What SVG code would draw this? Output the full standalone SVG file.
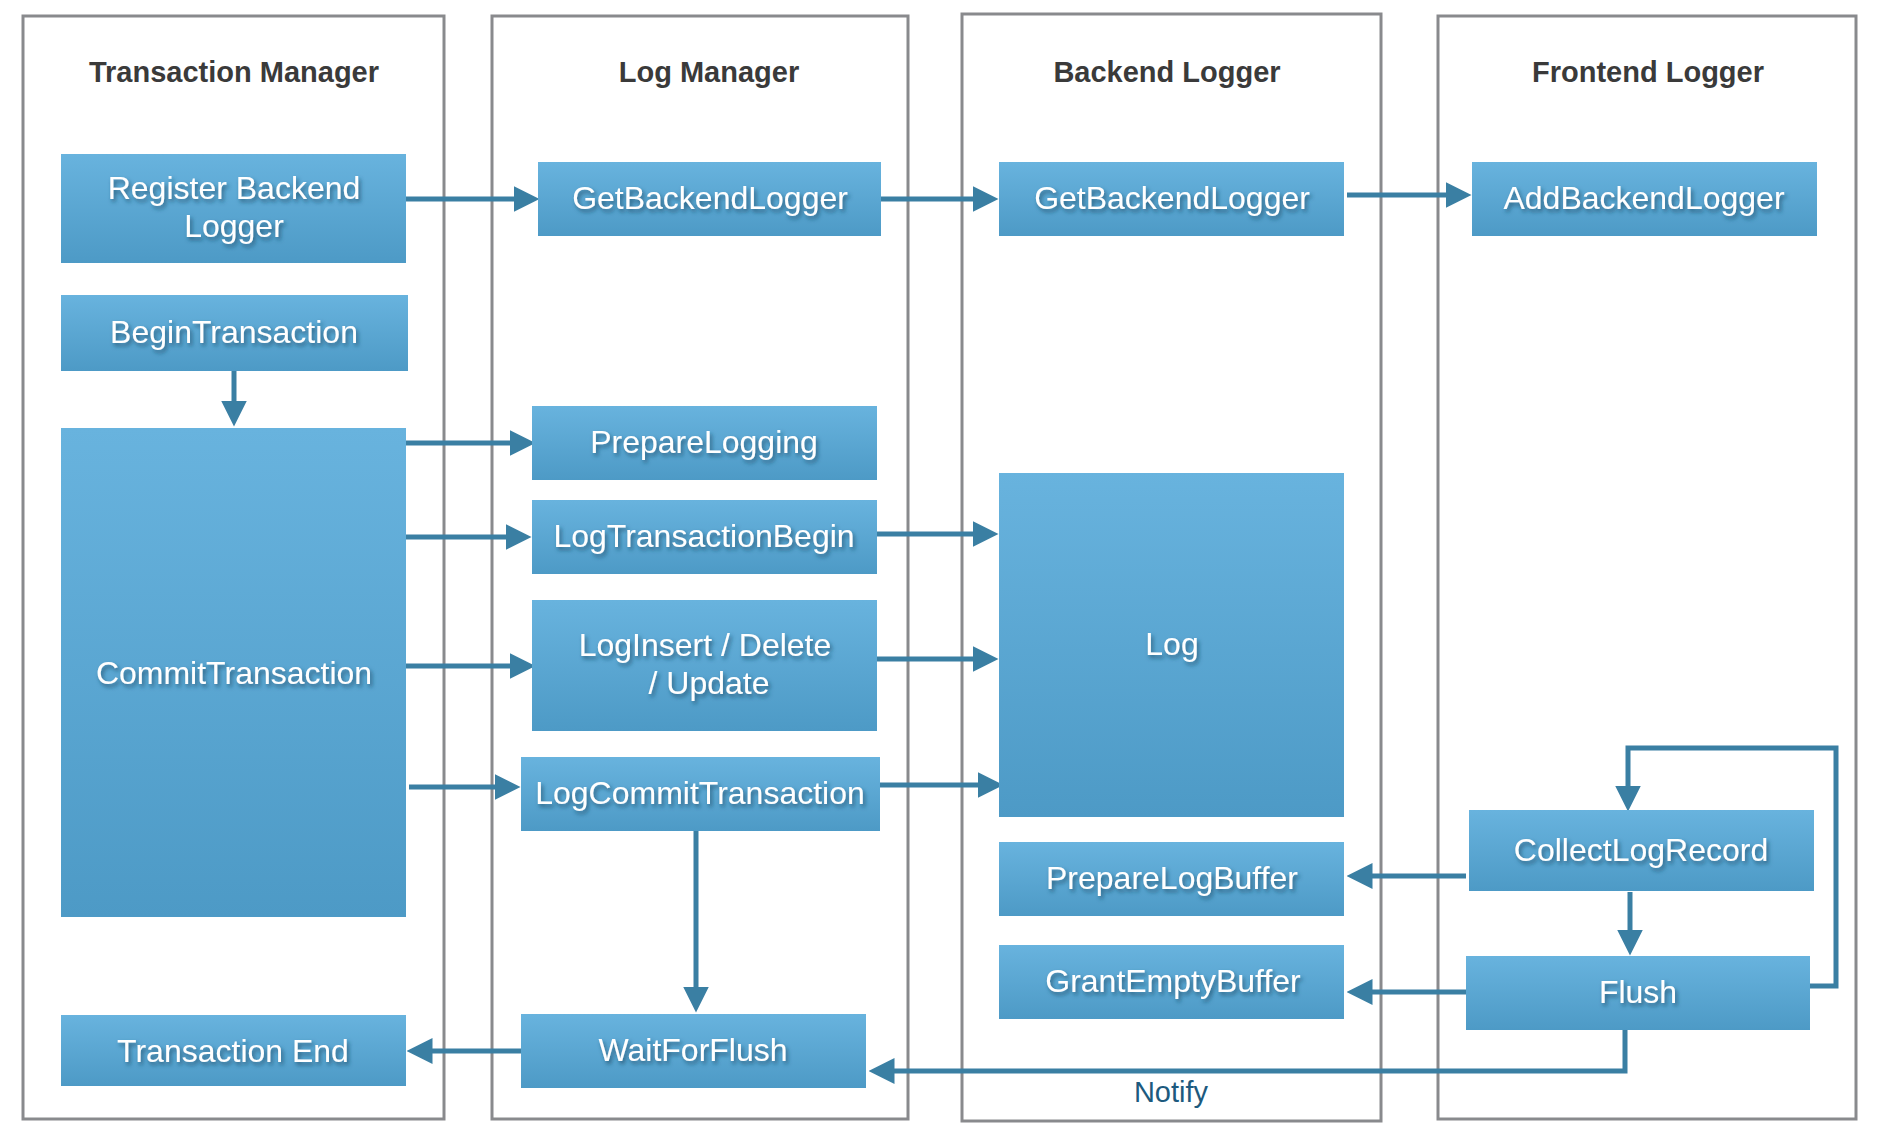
<svg xmlns="http://www.w3.org/2000/svg" width="1880" height="1138" viewBox="0 0 1880 1138">
<style>
.lane{fill:#ffffff;stroke:#898a8d;stroke-width:3}
.title{font-family:"Liberation Sans",Arial,sans-serif;font-weight:bold;font-size:29px;fill:#3a3a3a;text-anchor:middle}
.box{fill:url(#bg)}
.lbl{font-family:"Liberation Sans",Arial,sans-serif;font-size:32px;fill:#ffffff;text-anchor:middle;filter:url(#ts)}
.con{fill:none;stroke:#3a7fa3;stroke-width:5;stroke-linejoin:miter;marker-end:url(#ah)}
.note{font-family:"Liberation Sans",Arial,sans-serif;font-size:29px;fill:#1d5a7e;text-anchor:middle}
</style>
<defs>
<linearGradient id="bg" x1="0" y1="0" x2="0" y2="1">
<stop offset="0" stop-color="#68b3de"/>
<stop offset="1" stop-color="#4d9ac6"/>
</linearGradient>
<filter id="ts" x="-10%" y="-30%" width="120%" height="160%">
<feDropShadow dx="2" dy="3" stdDeviation="2" flood-color="#1b4866" flood-opacity="0.75"/>
</filter>
<marker id="ah" markerUnits="userSpaceOnUse" markerWidth="26" markerHeight="26" viewBox="0 0 26 26" refX="0.5" refY="13" orient="auto">
<path d="M0,0 L26,13 L0,26 z" fill="#3a7fa3"/>
</marker>
</defs>
<rect width="1880" height="1138" fill="#ffffff"/>
<g id="lanes">
<g id="lane-transaction-manager"><rect class="lane" x="23" y="16" width="421" height="1103"/><text class="title" x="234" y="82">Transaction Manager</text></g>
<g id="lane-log-manager"><rect class="lane" x="492" y="16" width="416" height="1103"/><text class="title" x="709" y="82">Log Manager</text></g>
<g id="lane-backend-logger"><rect class="lane" x="962" y="14" width="419" height="1107"/><text class="title" x="1167" y="82">Backend Logger</text></g>
<g id="lane-frontend-logger"><rect class="lane" x="1438" y="16" width="418" height="1103"/><text class="title" x="1648" y="82">Frontend Logger</text></g>
</g>
<g id="connectors">
<path class="con" d="M406,199 H514"/>
<path class="con" d="M881,199 H973"/>
<path class="con" d="M1347,195 H1446"/>
<path class="con" d="M234,371 V401"/>
<path class="con" d="M401,443 H510"/>
<path class="con" d="M401,537 H506"/>
<path class="con" d="M401,666 H510"/>
<path class="con" d="M409,787 H495"/>
<path class="con" d="M877,534 H973"/>
<path class="con" d="M877,659 H973"/>
<path class="con" d="M880,785 H978"/>
<path class="con" d="M696,831 V987"/>
<path class="con" d="M521,1051 H432"/>
<path class="con" d="M1466,876 H1372"/>
<path class="con" d="M1466,992 H1372"/>
<path class="con" d="M1630,892 V930"/>
<path class="con" d="M1810,986 H1836 V748 H1628 V786"/>
<path class="con" d="M1625,1030 V1071 H894"/>
<text class="note" x="1171" y="1102">Notify</text>
</g>
<g id="register-backend-logger"><rect class="box" x="61" y="154" width="345" height="109"/><text class="lbl" x="234" y="199">Register Backend</text><text class="lbl" x="234" y="237">Logger</text></g>
<g id="begin-transaction"><rect class="box" x="61" y="295" width="347" height="76"/><text class="lbl" x="234" y="343">BeginTransaction</text></g>
<g id="commit-transaction"><rect class="box" x="61" y="428" width="345" height="489"/><text class="lbl" x="234" y="684">CommitTransaction</text></g>
<g id="transaction-end"><rect class="box" x="61" y="1015" width="345" height="71"/><text class="lbl" x="233" y="1062">Transaction End</text></g>
<g id="lm-get-backend-logger"><rect class="box" x="538" y="162" width="343" height="74"/><text class="lbl" x="710" y="209">GetBackendLogger</text></g>
<g id="prepare-logging"><rect class="box" x="532" y="406" width="345" height="74"/><text class="lbl" x="704" y="453">PrepareLogging</text></g>
<g id="log-transaction-begin"><rect class="box" x="532" y="500" width="345" height="74"/><text class="lbl" x="704" y="547">LogTransactionBegin</text></g>
<g id="log-insert-delete-update"><rect class="box" x="532" y="600" width="345" height="131"/><text class="lbl" x="705" y="656">LogInsert / Delete</text><text class="lbl" x="709" y="694">/ Update</text></g>
<g id="log-commit-transaction"><rect class="box" x="521" y="757" width="359" height="74"/><text class="lbl" x="700" y="804">LogCommitTransaction</text></g>
<g id="wait-for-flush"><rect class="box" x="521" y="1014" width="345" height="74"/><text class="lbl" x="693" y="1061">WaitForFlush</text></g>
<g id="bl-get-backend-logger"><rect class="box" x="999" y="162" width="345" height="74"/><text class="lbl" x="1172" y="209">GetBackendLogger</text></g>
<g id="log"><rect class="box" x="999" y="473" width="345" height="344"/><text class="lbl" x="1172" y="655">Log</text></g>
<g id="prepare-log-buffer"><rect class="box" x="999" y="842" width="345" height="74"/><text class="lbl" x="1172" y="889">PrepareLogBuffer</text></g>
<g id="grant-empty-buffer"><rect class="box" x="999" y="945" width="345" height="74"/><text class="lbl" x="1173" y="992">GrantEmptyBuffer</text></g>
<g id="add-backend-logger"><rect class="box" x="1472" y="162" width="345" height="74"/><text class="lbl" x="1644" y="209">AddBackendLogger</text></g>
<g id="collect-log-record"><rect class="box" x="1469" y="810" width="345" height="81"/><text class="lbl" x="1641" y="861">CollectLogRecord</text></g>
<g id="flush"><rect class="box" x="1466" y="956" width="344" height="74"/><text class="lbl" x="1638" y="1003">Flush</text></g>
</svg>
